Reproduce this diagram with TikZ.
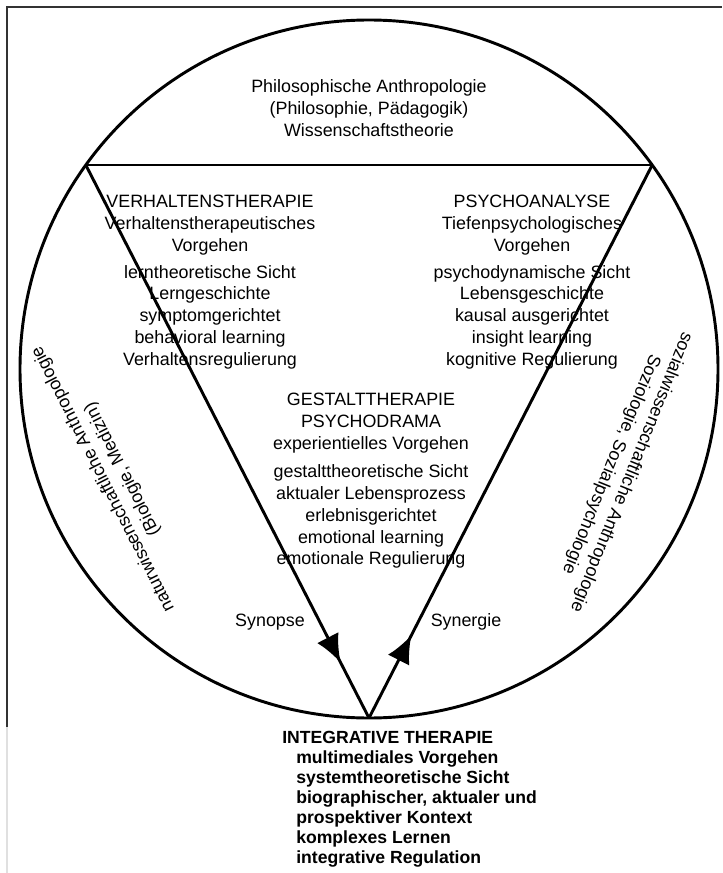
\documentclass[tikz,border=0pt]{standalone}
\usepackage{fontspec}
\setmainfont{Liberation Sans}
\usetikzlibrary{arrows.meta,decorations.markings}
\tikzset{
	kreis/.style={line width=2.2pt, color=black},
	rahmen/.style={line width=1.5pt, color=black!80},
	schrift/.style={align=center, inner sep=0pt, font=\fontsize{13.4}{16.3}\selectfont},
	fett/.style={align=left, inner sep=0pt, font=\bfseries\fontsize{13.2}{15}\selectfont},
	pfeilmitte/.style={postaction={decorate}, decoration={markings, mark=at position #1 with {\arrow{Latex[length=21pt,width=18pt]}}}}
}

\begin{document}
\begin{tikzpicture}[x=0.75pt, y=-0.75pt]
		%%%%% START %%%%%
		\useasboundingbox (0,0) rectangle (722,873);
		\fill[white] (0,0) rectangle (722,873);
		
		\draw[rahmen] (7,727) -- (7,7) -- (722,7);
		\draw[line width=1.5pt, color=black!12] (7,727) -- (7,873);
		
		\coordinate (M) at (369,369);
		\draw[kreis] (M) circle [radius=261.75pt];
		
		\coordinate (links) at (85.8,165);
		\coordinate (rechts) at (652.2,165);
		\coordinate (unten) at (369,718);
		\draw[kreis] (links) -- (rechts);
		\draw[kreis, pfeilmitte=0.9] (links) -- (unten);
		\draw[kreis, pfeilmitte=0.15] (unten) -- (rechts);
		
		\node[schrift] (philo) at (369,108) {Philosophische Anthropologie\\(Philosophie, Pädagogik)\\Wissenschaftstheorie};
		
		\node[schrift] (verhalten) at (210,282) {VERHALTENSTHERAPIE\\Verhaltenstherapeutisches\\Vorgehen\\[4pt]lerntheoretische Sicht\\Lerngeschichte\\symptomgerichtet\\behavioral learning\\Verhaltensregulierung};
		\node[schrift] (psycho) at (532,282) {PSYCHOANALYSE\\Tiefenpsychologisches\\Vorgehen\\[4pt]psychodynamische Sicht\\Lebensgeschichte\\kausal ausgerichtet\\insight learning\\kognitive Regulierung};
		\node[schrift] (gestalt) at (371,481) {GESTALTTHERAPIE\\PSYCHODRAMA\\experientielles Vorgehen\\[5pt]gestalttheoretische Sicht\\aktualer Lebensprozess\\erlebnisgerichtet\\emotional learning\\emotionale Regulierung};
		
		\node[schrift, rotate=117] (natur) at (113,474) {naturwissenschaftliche Anthropologie\\(Biologie, Medizin)};
		\node[schrift, rotate=-112] (sozial) at (621,468) {sozialwissenschaftliche Anthropologie\\Soziologie, Sozialpsychologie};
		
		\node[schrift] (synopse) at (270,622) {Synopse};
		\node[schrift] (synergie) at (466,622) {Synergie};
		
		\node[fett, anchor=north west] (integrativ) at (282,731) {INTEGRATIVE THERAPIE\\
			\hspace*{10.5pt}multimediales Vorgehen\\
			\hspace*{10.5pt}systemtheoretische Sicht\\
			\hspace*{10.5pt}biographischer, aktualer und\\
			\hspace*{10.5pt}prospektiver Kontext\\
			\hspace*{10.5pt}komplexes Lernen\\
			\hspace*{10.5pt}integrative Regulation};
		
		%%%%% END %%%%%
\end{tikzpicture}
\end{document}
